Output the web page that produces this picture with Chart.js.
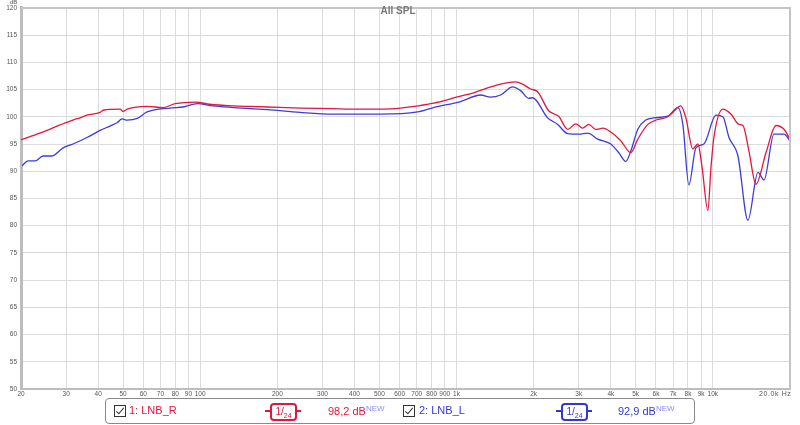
<!DOCTYPE html>
<html lang="en">
<head>
  <meta charset="UTF-8" />
  <title>All SPL</title>
  <script src="https://cdn.jsdelivr.net/npm/chart.js"></script>
  <style>
    body {
      margin: 0;
      background: #fff;
      font-family: Arial, "Liberation Sans", sans-serif;
    }
    .wrap {
      position: relative;
      width: 800px;
      height: 425px;
      overflow: hidden;
    }
    .title {
      position: absolute;
      left: 0;
      width: 796px;
      top: 5px;
      text-align: center;
      font-size: 10px;
      font-weight: bold;
      color: #7a7a7a;
    }
    .unit-db {
      position: absolute;
      left: 10px;
      top: -1px;
      font-size: 6px;
      color: #555;
    }
    .unit-hz {
      position: absolute;
      left: 759px;
      top: 390px;
      font-size: 7px;
      letter-spacing: 0.6px;
      color: #555;
    }
    .legend {
      position: absolute;
      left: 105px;
      top: 398px;
      width: 588px;
      height: 24px;
      border: 1px solid #8a8a8a;
      border-radius: 4px;
      font-size: 11px;
    }
    .legend span, .legend div { position: absolute; }
    .chk {
      width: 10px;
      height: 10px;
      border: 1px solid #333;
      top: 6px;
    }
    .chk::after {
      content: "";
      position: absolute;
      left: 3px;
      top: 0px;
      width: 3px;
      height: 7px;
      border-right: 1.5px solid #333;
      border-bottom: 1.5px solid #333;
      transform: rotate(40deg);
    }
    .name { top: 5px; }
    .smooth {
      top: 4px;
      width: 23px;
      height: 14px;
      border: 2px solid;
      border-radius: 4px;
      background: #fff;
      font-size: 10px;
      color: #222;
      text-align: center;
      line-height: 14px;
    }
    .smooth sub { font-size: 7px; }
    .dash { top: 11px; height: 2px; }
    .lvl { top: 5px; }
    .lvl sup { font-size: 8px; color: #8a8aff; vertical-align: 4px; }
    .red { color: #e2163f; border-color: #e2163f; }
    .blue { color: #3636d8; border-color: #3636d8; }
  </style>
</head>
<body>
  <div class="wrap">
    <canvas id="spl" width="800" height="425"></canvas>
    <div class="title">All SPL</div>
    <div class="unit-db">dB</div>
    <div class="unit-hz">20.0k Hz</div>

    <div class="legend">
      <div class="chk" style="left:8px"></div>
      <span class="name red" style="left:23px">1: LNB_R</span>
      <div class="dash" style="left:159px;width:36px;background:#e2163f"></div>
      <div class="smooth red" style="left:164px">1/<sub>24</sub></div>
      <span class="lvl red" style="left:222px">98,2 dB<sup>NEW</sup></span>

      <div class="chk" style="left:297px"></div>
      <span class="name blue" style="left:313px">2: LNB_L</span>
      <div class="dash" style="left:450px;width:36px;background:#3636d8"></div>
      <div class="smooth blue" style="left:455px">1/<sub>24</sub></div>
      <span class="lvl blue" style="left:512px">92,9 dB<sup>NEW</sup></span>
    </div>
  </div>

  <script>
    // frequency response data
    const freqR = [20, 23.7, 28.4, 31.9, 34, 36.2, 40.7, 41.8, 48.7, 50, 51.9, 62.1, 71.8, 79.9, 95.7,
      109, 135, 157, 183, 246, 331, 386, 505, 605, 705, 814, 1037, 1166, 1322, 1486, 1701, 1811,
      1946, 2073, 2288, 2504, 2716, 2918, 3108, 3280, 3494, 3720, 3998, 4374, 4786, 5098, 5576,
      6102, 6676, 6982, 7502, 7848, 8356, 8742, 9064, 9566, 9826, 10096, 10948, 11766, 12644,
      13106, 13832, 14730, 16118, 17634, 18950, 20000];
    const dbR = [95.8, 97.0, 98.5, 99.4, 99.8, 100.3, 100.8, 101.2, 101.4, 101.0, 101.4, 101.9, 101.7,
      102.4, 102.7, 102.3, 102.0, 101.9, 101.8, 101.6, 101.5, 101.4, 101.4, 101.6, 102.0, 102.5,
      103.8, 104.4, 105.3, 106.0, 106.4, 106.0, 105.1, 104.6, 101.1, 100.1, 97.7, 98.7, 97.9,
      98.6, 97.7, 97.9, 97.2, 95.6, 93.4, 95.9, 98.6, 99.5, 100.0, 100.8, 102.0, 99.8, 94.1,
      95.0, 91.0, 82.8, 90.5, 96.2, 101.4, 100.5, 98.6, 98.4, 93.7, 87.6, 93.4, 98.4, 97.7, 95.9];

    const freqL = [20.2, 21.3, 22.7, 24.4, 26.4, 29.2, 31.9, 36.2, 40.7, 44.5, 47.4, 49.6, 51.9, 56.8,
      62.1, 76.4, 85.9, 97.4, 112, 135, 183, 246, 331, 505, 705, 814, 1037, 1242, 1358, 1486,
      1656, 1779, 1912, 1982, 2268, 2482, 2716, 2998, 3250, 3557, 3998, 4296, 4576, 4786, 5098,
      5476, 5886, 6676, 7302, 7638, 8064, 8588, 9228, 10280, 10948, 11558, 12530, 13708, 14998,
      15830, 17320, 18950, 20000];
    const dbL = [91.0, 91.9, 91.9, 92.8, 92.8, 94.3, 95.0, 96.2, 97.5, 98.3, 98.9, 99.6, 99.4, 99.7,
      100.9, 101.6, 101.8, 102.4, 102.0, 101.7, 101.3, 100.8, 100.5, 100.5, 100.9, 101.7, 102.8,
      104.0, 103.6, 104.0, 105.5, 104.8, 103.4, 103.5, 99.8, 98.6, 96.9, 96.8, 97.0, 95.9, 95.0,
      93.4, 91.8, 93.7, 97.7, 99.4, 99.8, 100.1, 101.7, 98.6, 87.5, 94.3, 95.0, 100.3, 100.0,
      96.2, 92.8, 81.0, 89.8, 88.4, 96.8, 96.8, 95.6];

    const xTicks = [20, 30, 40, 50, 60, 70, 80, 90, 100, 200, 300, 400, 500, 600, 700, 800, 900,
      1000, 2000, 3000, 4000, 5000, 6000, 7000, 8000, 9000, 10000, 20000];
    const xTickLabels = ['20', '30', '40', '50', '60', '70', '80', '90', '100', '200', '300', '400',
      '500', '600', '700', '800', '900', '1k', '2k', '3k', '4k', '5k', '6k', '7k', '8k', '9k', '10k', ''];

    const toPoints = (fs, vs) => fs.map((f, i) => ({ x: f, y: vs[i] }));

    // frame round the plot area
    const framePlugin = {
      id: 'frame',
      afterDraw(chart) {
        const a = chart.chartArea;
        const c = chart.ctx;
        c.save();
        c.strokeStyle = '#c4c4c4';
        c.lineWidth = 2;
        c.beginPath();
        c.moveTo(a.left, a.top);
        c.lineTo(a.right, a.top);
        c.lineTo(a.right, a.bottom);
        c.stroke();
        c.restore();
      }
    };

    const ctx = document.getElementById('spl').getContext('2d');
    new Chart(ctx, {
      type: 'line',
      data: {
        datasets: [
          {
            label: '1: LNB_R',
            data: toPoints(freqR, dbR),
            borderColor: '#e2163f',
            borderWidth: 1.3,
            pointRadius: 0,
            cubicInterpolationMode: 'monotone',
            fill: false
          },
          {
            label: '2: LNB_L',
            data: toPoints(freqL, dbL),
            borderColor: '#3c3cdc',
            borderWidth: 1.3,
            pointRadius: 0,
            cubicInterpolationMode: 'monotone',
            fill: false
          }
        ]
      },
      options: {
        responsive: false,
        animation: false,
        events: [],
        layout: { padding: { top: 6, right: 10, left: 0, bottom: 0 } },
        plugins: {
          legend: { display: false },
          title: { display: false },
          tooltip: { enabled: false }
        },
        scales: {
          x: {
            type: 'logarithmic',
            min: 20,
            max: 20000,
            afterBuildTicks(scale) {
              scale.ticks = xTicks.map(v => ({ value: v }));
            },
            afterFit(scale) { scale.height = 36; },
            ticks: {
              autoSkip: false,
              maxRotation: 0,
              padding: 1,
              color: '#555',
              font: { size: 6.5, family: 'Arial' },
              callback: (v, i) => xTickLabels[i]
            },
            grid: { color: '#dcdcdc', lineWidth: 1, drawTicks: false },
            border: { color: '#bdbdbd', width: 2 }
          },
          y: {
            min: 50,
            max: 120,
            afterFit(scale) { scale.width = 21; },
            ticks: {
              stepSize: 5,
              padding: 4,
              color: '#555',
              font: { size: 6.5, family: 'Arial' }
            },
            grid: { color: '#dcdcdc', lineWidth: 1, drawTicks: false },
            border: { color: '#bdbdbd', width: 3 }
          }
        }
      },
      plugins: [framePlugin]
    });
  </script>
</body>
</html>
